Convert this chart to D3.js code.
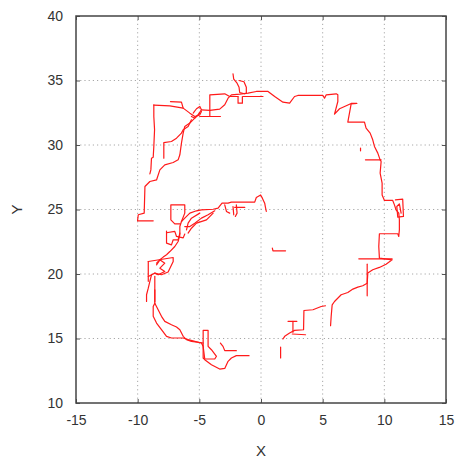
<!DOCTYPE html>
<html>
<head>
<meta charset="utf-8">
<script src="https://cdn.jsdelivr.net/npm/d3@7"></script>
<style>
  html, body { margin: 0; padding: 0; background: #fff; }
  svg { display: block; }
  text { font-family: "Liberation Sans", Arial, sans-serif; fill: #333; }
</style>
</head>
<body>
<svg id="chart" width="455" height="461"></svg>
<script>
// Axis ticks
const xTicks = [-15, -10, -5, 0, 5, 10, 15];
const yTicks = [10, 15, 20, 25, 30, 35, 40];

// Trajectory pieces, [x, y] in metres
const outerLoop = [[-4.83,32.73],[-4.15,32.68],[-3.35,32.78],[-2.94,33.12],[-2.67,33.63],[-2.40,33.89],[-1.73,33.94],[-1.05,34.02],[-0.38,34.15],[0.57,34.15],[1.11,33.76],[1.78,33.32],[2.32,33.24],[2.72,33.76],[2.99,33.84],[5.02,33.84],[5.15,33.63],[5.29,33.89],[6.10,33.97],[6.23,33.89],[6.23,33.37],[5.96,32.39],[6.37,32.81],[6.91,33.04],[7.31,33.22],[7.77,33.22],[7.31,33.19],[7.04,31.77],[8.39,31.77],[8.52,31.31],[8.85,30.92],[9.06,30.40],[9.20,29.89],[9.47,29.37],[9.66,28.85],[9.74,28.72],[9.66,27.82],[9.82,27.04],[9.82,26.13],[10.01,25.70],[10.68,25.70],[10.82,25.36],[10.95,24.97],[11.17,24.72],[11.22,24.20],[11.22,23.42],[11.17,22.91],[11.09,23.12],[9.60,23.12],[9.55,22.13],[9.60,21.23],[10.63,21.10],[10.14,20.76],[9.60,20.51],[9.06,20.33],[8.66,20.07],[8.61,19.29],[8.25,19.09],[7.85,18.98],[7.45,18.83],[7.04,18.57],[6.50,18.39],[5.96,17.87],[5.77,17.61],[5.69,16.72],[5.64,15.99]];
const eastLoop = [[10.90,25.75],[11.49,25.80],[11.55,24.46],[11.09,24.41],[11.01,25.23],[11.22,25.44],[11.36,24.72]];
const eastBar21 = [[7.93,21.18],[10.63,21.18]];
const eastPost = [[8.61,20.76],[8.61,18.31]];
const eastBar29 = [[8.47,28.85],[9.74,28.85]];
const eastTick = [[8.07,29.76],[8.07,29.55]];
const southSteps = [[5.23,17.54],[4.88,17.48],[4.21,17.23],[3.48,17.17],[3.45,15.68],[2.72,15.63],[2.32,15.42],[1.92,15.17],[1.78,14.96]];
const southTop = [[2.19,16.33],[2.91,16.33]];
const southStem = [[2.59,16.33],[2.59,15.48]];
const southBase = [[2.54,15.35],[3.61,15.29]];
const southStub = [[1.59,14.34],[1.59,13.49]];
const centreMark = [[0.92,22.00],[0.97,21.80],[1.99,21.80]];
const northSpur = [[-2.27,35.52],[-2.21,35.10],[-1.94,34.79],[-1.78,34.48],[-1.73,34.07],[-1.32,33.97]];
const northSpur2 = [[-1.78,35.00],[-1.38,34.90],[-1.19,34.48],[-1.19,34.02]];
const northBox = [[-1.86,33.76],[-1.86,33.24],[-1.51,33.24],[-1.51,33.76]];
const northBar = [[-1.46,33.76],[0.16,33.76]];
const northUpper = [[-4.15,32.21],[-4.15,33.89],[-2.94,33.97],[-2.54,33.76],[-1.86,33.76]];
const northLow = [[-4.96,32.21],[-3.29,32.21]];
const westBracket = [[-8.69,33.12],[-8.69,32.21],[-8.63,31.18],[-8.69,29.89],[-8.74,29.05],[-8.88,28.98],[-8.93,28.07],[-9.01,27.76]];
const westTop = [[-8.69,33.09],[-7.39,33.04],[-6.31,32.86],[-5.77,32.47],[-5.37,32.21],[-4.96,32.34],[-4.83,32.60]];
const westBump = [[-7.34,33.37],[-6.45,33.32],[-6.31,32.86]];
const westKnot = [[-5.50,32.47],[-5.23,32.81],[-4.96,32.99],[-4.83,32.73],[-5.10,32.34],[-5.37,32.08],[-5.64,32.21]];
const westInner = [[-4.96,32.47],[-5.37,32.08],[-5.77,31.70],[-6.18,31.44],[-6.31,30.92],[-6.45,30.14],[-6.58,29.24],[-6.72,28.85],[-7.12,28.64],[-7.80,28.46],[-8.20,28.07],[-8.47,27.29],[-9.01,27.17],[-9.41,26.78],[-9.47,24.72],[-9.95,24.59],[-10.01,24.12],[-8.74,24.12]];
const westInner2 = [[-7.88,28.98],[-7.88,30.19],[-7.26,30.27],[-6.85,30.53],[-6.45,30.92],[-6.31,31.18],[-5.91,31.44],[-5.64,31.95]];
const midArc = [[0.43,24.85],[0.35,25.23],[0.30,25.49],[0.11,25.88],[-0.03,26.13],[-0.38,25.93],[-0.51,25.57],[-2.40,25.57],[-2.67,25.49],[-3.16,25.49],[-3.48,25.10],[-3.88,25.02],[-4.83,24.97],[-5.23,24.90],[-5.77,24.72],[-6.18,24.33],[-6.45,24.07],[-6.58,23.68],[-6.58,23.04],[-6.72,22.52],[-6.99,22.13],[-7.39,21.74],[-7.66,21.49],[-7.93,21.31],[-8.20,21.10],[-8.47,20.84]];
const midBox = [[-6.45,24.07],[-6.18,24.72],[-6.18,25.36],[-7.31,25.36],[-7.31,24.20],[-6.99,23.89],[-6.58,23.89]];
const midLane1 = [[-3.75,24.90],[-4.29,24.59],[-4.83,24.33],[-5.37,23.94],[-5.77,23.68],[-6.18,23.68]];
const midLane2 = [[-3.88,24.72],[-4.42,24.20],[-5.23,23.94],[-5.64,23.55],[-5.91,23.17]];
const midLane3 = [[-4.96,24.72],[-5.64,24.33],[-5.91,23.94],[-6.04,23.42]];
const midTwig1 = [[-2.94,25.36],[-2.80,24.85],[-2.54,24.72]];
const midTwig2 = [[-2.27,25.23],[-2.21,24.59]];
const midTwig3 = [[-2.00,25.36],[-1.94,24.72],[-2.08,24.46]];
const midBar = [[-2.13,25.16],[-1.32,25.16]];
const midCell = [[-7.66,23.33],[-7.66,22.39],[-7.26,22.26],[-7.12,22.65],[-6.72,22.65],[-6.58,23.17]];
const midCell2 = [[-7.66,23.20],[-6.99,23.30],[-6.85,22.91],[-6.31,22.80],[-6.18,23.10]];
const lowBox = [[-9.14,20.97],[-7.12,21.28],[-7.12,20.97],[-7.53,20.15],[-8.07,19.94],[-8.61,20.07],[-9.14,19.81]];
const lowPost = [[-9.14,20.97],[-9.14,19.43]];
const lowZig = [[-8.47,20.71],[-8.20,21.10],[-7.80,20.84],[-8.20,20.45],[-7.80,20.20],[-8.34,19.94],[-8.61,20.07]];
const lowTail = [[-8.88,19.94],[-9.01,19.43],[-9.14,18.90],[-9.28,18.39],[-9.28,17.87]];
const lowStem = [[-8.61,19.81],[-8.61,17.87]];
const southOuter = [[-8.61,18.78],[-8.61,17.74],[-8.74,17.48],[-8.74,16.72],[-8.47,16.20],[-8.07,15.68],[-7.66,15.17],[-7.26,15.04],[-6.31,15.04],[-5.91,14.91],[-5.37,14.78],[-4.83,14.65],[-4.69,14.39],[-4.69,13.49],[-4.56,13.36],[-4.02,12.97],[-3.35,12.63],[-2.94,12.68],[-2.67,13.23],[-2.40,13.49],[-2.00,13.67],[-0.97,13.67]];
const southInner = [[-8.61,17.74],[-8.34,17.23],[-8.07,16.72],[-7.80,16.33],[-7.26,16.07],[-6.85,15.89],[-6.58,15.68],[-6.31,15.17],[-6.04,14.91],[-5.64,14.78],[-4.69,14.65]];
const southBox = [[-4.69,15.63],[-4.29,15.63],[-4.29,14.39],[-4.02,14.13],[-3.61,13.62],[-3.75,13.41],[-4.56,13.41],[-4.69,14.39],[-4.69,15.63]];
const southHook = [[-3.29,14.65],[-3.08,14.39],[-2.94,14.06],[-2.00,14.06]];

const pieces = [outerLoop, eastLoop, eastBar21, eastPost, eastBar29, eastTick, southSteps, southTop,
  southStem, southBase, southStub, centreMark, northSpur, northSpur2, northBox, northBar, northUpper,
  northLow, westBracket, westTop, westBump, westKnot, westInner, westInner2, midArc, midBox, midLane1,
  midLane2, midLane3, midTwig1, midTwig2, midTwig3, midBar, midCell, midCell2, lowBox, lowPost, lowZig,
  lowTail, lowStem, southOuter, southInner, southBox, southHook];

const margin = { left: 76, right: 9, top: 16, bottom: 58 };
const W = 455, H = 461;
const svg = d3.select("#chart");

const x = d3.scaleLinear().domain([-15, 15]).range([margin.left, W - margin.right]);
const y = d3.scaleLinear().domain([10, 40]).range([H - margin.bottom, margin.top]);

// plain hyphen-minus labels
const fmt = d => String(d);

// dotted grid
const grid = svg.append("g");
grid.selectAll(".gx").data(xTicks.slice(1, -1)).join("line")
  .attr("x1", d => x(d)).attr("x2", d => x(d))
  .attr("y1", y(10)).attr("y2", y(40))
  .attr("stroke", "#a8a8a8").attr("stroke-width", 1).attr("stroke-dasharray", "1.2,3");
grid.selectAll(".gy").data(yTicks.slice(1, -1)).join("line")
  .attr("y1", d => y(d)).attr("y2", d => y(d))
  .attr("x1", x(-15)).attr("x2", x(15))
  .attr("stroke", "#a8a8a8").attr("stroke-width", 1).attr("stroke-dasharray", "1.2,3");

// trajectory
const line = d3.line().x(d => x(d[0])).y(d => y(d[1]));
svg.append("g").selectAll("path").data(pieces).join("path")
  .attr("d", line)
  .attr("fill", "none")
  .attr("stroke", "#ff1a1a")
  .attr("stroke-width", 1.2)
  .attr("stroke-linejoin", "round")
  .attr("stroke-linecap", "round");

// axes: labels outside, ticks pointing inward, mirrored
const xAxis = svg.append("g").attr("transform", `translate(0,${y(10)})`)
  .call(d3.axisBottom(x).tickValues(xTicks).tickSize(-4).tickPadding(12).tickFormat(fmt));
const xAxisTop = svg.append("g").attr("transform", `translate(0,${y(40)})`)
  .call(d3.axisTop(x).tickValues(xTicks).tickSize(-4).tickFormat(""));
const yAxis = svg.append("g").attr("transform", `translate(${x(-15)},0)`)
  .call(d3.axisLeft(y).tickValues(yTicks).tickSize(-4).tickPadding(13).tickFormat(fmt));
const yAxisRight = svg.append("g").attr("transform", `translate(${x(15)},0)`)
  .call(d3.axisRight(y).tickValues(yTicks).tickSize(-4).tickFormat(""));

[xAxis, xAxisTop, yAxis, yAxisRight].forEach(g => {
  g.select(".domain").remove();
  g.selectAll(".tick line").attr("stroke", "#555").attr("stroke-width", 1);
  g.selectAll("text").attr("font-size", 14).attr("fill", "#333")
    .attr("font-family", "'Liberation Sans', Arial, sans-serif");
});

// frame
svg.append("rect")
  .attr("x", x(-15)).attr("y", y(40))
  .attr("width", x(15) - x(-15)).attr("height", y(10) - y(40))
  .attr("fill", "none").attr("stroke", "#444").attr("stroke-width", 1.5);

// axis titles
svg.append("text").attr("x", x(0)).attr("y", 456)
  .attr("text-anchor", "middle").attr("font-size", 15).text("X");
svg.append("text")
  .attr("transform", `translate(22,${(y(10) + y(40)) / 2}) rotate(-90)`)
  .attr("text-anchor", "middle").attr("font-size", 15).text("Y");
</script>
</body>
</html>
